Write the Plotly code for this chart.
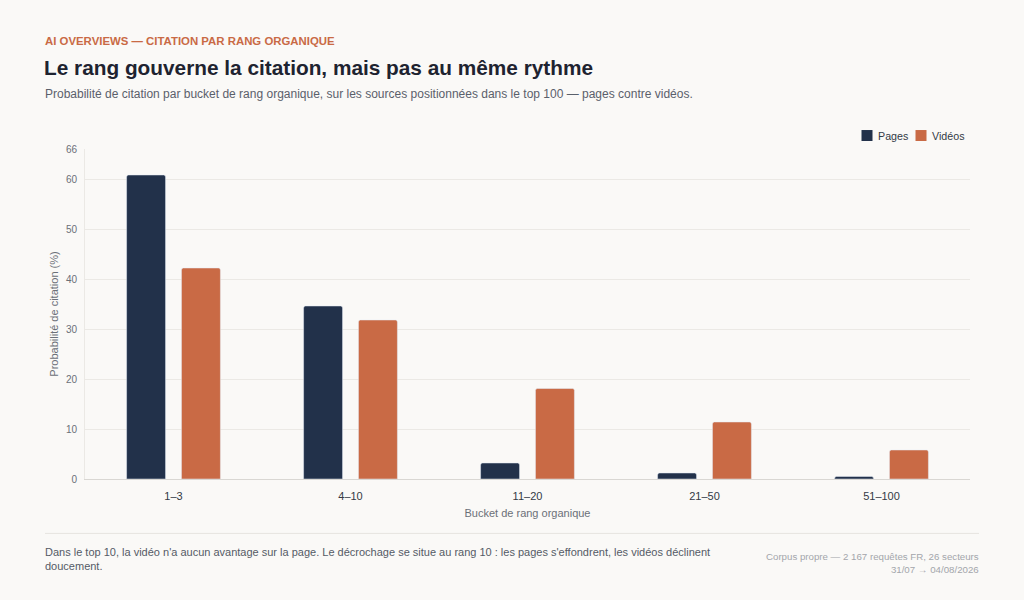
import plotly.graph_objects as go

buckets = ["1–3", "4–10", "11–20", "21–50", "51–100"]
pages = [60.8, 34.6, 3.2, 1.2, 0.5]
videos = [42.2, 31.8, 18.1, 11.4, 5.8]
y_ticks = [0, 10, 20, 30, 40, 50, 60, 66]
series_names = ["Pages", "Vidéos"]

navy = "#22314a"
orange = "#c96a45"
bg = "#faf9f7"
font = "Liberation Sans, Arial, sans-serif"

# plot area in pixels: x 85..970, y 149..479.5
pw, ph, pb = 885, 330.5, 120.5


def px(x):
    return (x - 85) / pw


def py(y):
    return (600 - y - pb) / ph


fig = go.Figure()
fig.add_trace(go.Bar(x=buckets, y=pages, name=series_names[0], marker_color=navy))
fig.add_trace(go.Bar(x=buckets, y=videos, name=series_names[1], marker_color=orange))

fig.update_layout(
    width=1024, height=600,
    paper_bgcolor=bg, plot_bgcolor=bg,
    font=dict(family=font, color="#555b66", size=11),
    margin=dict(l=85, r=54, t=149, b=pb),
    barmode="group", bargap=0.38, bargroupgap=0.29, barcornerradius=2,
    showlegend=False,
)
fig.update_xaxes(
    showgrid=False, showline=True, linecolor="#d9d7d3", linewidth=1,
    ticks="", ticklabelstandoff=7, tickfont=dict(size=11, color="#333a45"),
    title=dict(text="Bucket de rang organique", font=dict(size=11, color="#6b7078"), standoff=8),
)
fig.update_yaxes(
    range=[0, 66], tickvals=y_ticks, showgrid=True, gridcolor="#ebe9e5",
    showline=True, linecolor="#ebe9e5", zeroline=False, ticks="",
    ticklabelstandoff=5, tickfont=dict(size=10, color="#6b7078"),
    title=dict(text="Probabilité de citation (%)", font=dict(size=11, color="#6b7078"), standoff=5),
)

# legend, top right
for name, color, sq_x, txt_x in [(series_names[0], navy, 861.5, 876), (series_names[1], orange, 915.5, 930)]:
    fig.add_shape(type="rect", xref="paper", yref="paper", x0=px(sq_x), x1=px(sq_x + 11),
                  y0=py(141), y1=py(130), fillcolor=color, line=dict(width=0))
    fig.add_annotation(text=name, xref="paper", yref="paper", x=px(txt_x), y=py(135.5),
                       xanchor="left", yanchor="middle", showarrow=False,
                       font=dict(size=10.7, color="#333a45", family=font))

fig.add_annotation(text="<b>AI OVERVIEWS — CITATION PAR RANG ORGANIQUE</b>", xref="paper", yref="paper",
                   x=px(43), y=py(41), xanchor="left", yanchor="middle", showarrow=False,
                   font=dict(size=11.4, color=orange, family=font))
fig.add_annotation(text="<b>Le rang gouverne la citation, mais pas au même rythme</b>", xref="paper", yref="paper",
                   x=px(42), y=py(67), xanchor="left", yanchor="middle", showarrow=False,
                   font=dict(size=20.8, color="#1e2330", family=font))
fig.add_annotation(text="Probabilité de citation par bucket de rang organique, sur les sources positionnées dans le top 100 — pages contre vidéos.",
                   xref="paper", yref="paper",
                   x=px(43), y=py(94), xanchor="left", yanchor="middle", showarrow=False,
                   font=dict(size=12, color="#5a606b", family=font))
fig.add_shape(type="line", xref="paper", yref="paper", x0=px(45), x1=px(979),
              y0=py(534), y1=py(534), line=dict(color="#e6e4e0", width=1))
fig.add_annotation(text="Dans le top 10, la vidéo n'a aucun avantage sur la page. Le décrochage se situe au rang 10 : les pages s'effondrent, les vidéos déclinent<br>doucement.",
                   xref="paper", yref="paper", align="left",
                   x=px(43), y=py(560), xanchor="left", yanchor="middle", showarrow=False,
                   font=dict(size=11, color="#555b66", family=font))
fig.add_annotation(text="Corpus propre — 2 167 requêtes FR, 26 secteurs<br>31/07 → 04/08/2026",
                   xref="paper", yref="paper", align="right",
                   x=px(981), y=py(563.5), xanchor="right", yanchor="middle", showarrow=False,
                   font=dict(size=9.7, color="#a3a6ab", family=font))

fig.write_html("out.html", config={"displayModeBar": False},
               post_script="document.body.style.margin='0';")
